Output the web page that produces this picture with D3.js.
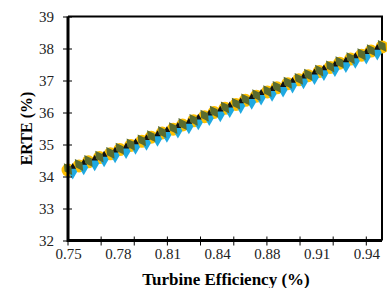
<!DOCTYPE html>
<html lang="en">
<head>
    <meta charset="UTF-8">
    <title>ERTE vs Turbine Efficiency</title>
    <script src="https://cdn.jsdelivr.net/npm/d3@7"></script>
    <style>
        body { margin: 0; background: #fff; }
        svg { display: block; }
    </style>
</head>
<body>
<script>
    'use strict';

    // turbine efficiency points
    var effX = [0.750, 0.757, 0.763, 0.770, 0.777, 0.783, 0.790, 0.797, 0.803, 0.810, 0.817,
        0.823, 0.830, 0.837, 0.843, 0.850, 0.857, 0.863, 0.870, 0.877, 0.883, 0.890,
        0.897, 0.903, 0.910, 0.917, 0.923, 0.930, 0.937, 0.943, 0.950];
    // shifted half a step (second group of markers)
    var effXb = [0.753, 0.760, 0.767, 0.773, 0.780, 0.787, 0.793, 0.800, 0.807, 0.813, 0.820,
        0.827, 0.833, 0.840, 0.847, 0.853, 0.860, 0.867, 0.873, 0.880, 0.887, 0.893,
        0.900, 0.907, 0.913, 0.920, 0.927, 0.933, 0.940, 0.947];

    // ERTE (%) series
    var erteYellow = [34.20, 34.33, 34.46, 34.59, 34.71, 34.84, 34.97, 35.10, 35.23, 35.36, 35.48,
        35.61, 35.74, 35.87, 36.00, 36.13, 36.25, 36.38, 36.51, 36.64, 36.77, 36.90,
        37.02, 37.15, 37.28, 37.41, 37.54, 37.67, 37.79, 37.92, 38.05];
    var erteOlive = [34.23, 34.36, 34.49, 34.62, 34.74, 34.87, 35.00, 35.13, 35.26, 35.39, 35.51,
        35.64, 35.77, 35.90, 36.03, 36.16, 36.28, 36.41, 36.54, 36.67, 36.80, 36.93,
        37.05, 37.18, 37.31, 37.44, 37.57, 37.70, 37.82, 37.95, 38.08];
    var erteBlue = [34.15, 34.28, 34.41, 34.53, 34.66, 34.79, 34.92, 35.05, 35.17, 35.30, 35.43,
        35.56, 35.69, 35.82, 35.94, 36.07, 36.20, 36.33, 36.46, 36.58, 36.71, 36.84,
        36.97, 37.10, 37.23, 37.35, 37.48, 37.61, 37.74, 37.87];
    var erteBlack = [34.30, 34.43, 34.56, 34.68, 34.81, 34.94, 35.07, 35.20, 35.32, 35.45, 35.58,
        35.71, 35.84, 35.97, 36.09, 36.22, 36.35, 36.48, 36.61, 36.73, 36.86, 36.99,
        37.12, 37.25, 37.38, 37.50, 37.63, 37.76, 37.89, 38.02];

    var yTicks = [32, 33, 34, 35, 36, 37, 38, 39];
    var xTickVals = [0.75, 0.7817, 0.8133, 0.845, 0.8767, 0.9083, 0.94];
    var xTickLabels = ['0.75', '0.78', '0.81', '0.84', '0.88', '0.91', '0.94'];
    var xMinorVals = [0.75, 0.7711, 0.7922, 0.8133, 0.8344, 0.8556, 0.8767, 0.8978, 0.9189, 0.94];

    var w = 387, h = 288;
    var padL = 68, padR = 382, padT = 16.5, padB = 240.5;
    var serif = '"Liberation Serif", "Times New Roman", serif';

    var svg = d3.select('body').append('svg')
        .attr('width', w)
        .attr('height', h);

    var x = d3.scaleLinear().domain([0.75, 0.95]).range([padL, padR]);
    var y = d3.scaleLinear().domain([32, 39]).range([padB, padT]);

    // frame (top / right)
    svg.append('path')
        .attr('d', 'M' + padL + ',' + padT + 'H' + padR + 'V' + padB)
        .attr('fill', 'none')
        .attr('stroke', '#000')
        .attr('stroke-width', 2);

    // series markers
    function pts(xs, ys) {
        return ys.map(function(v, i) { return [xs[i], v]; });
    }

    svg.append('g').selectAll('circle')
        .data(pts(effX, erteYellow))
        .enter().append('circle')
        .attr('cx', d => x(d[0]))
        .attr('cy', d => y(d[1]))
        .attr('r', 6.5)
        .attr('fill', '#ffc000');

    svg.append('g').selectAll('path')
        .data(pts(effXb, erteBlue))
        .enter().append('path')
        .attr('d', d3.symbol().type(d3.symbolDiamond).size(70))
        .attr('transform', d => 'translate(' + x(d[0]) + ',' + y(d[1]) + ')')
        .attr('fill', '#1fa9e1');

    svg.append('g').selectAll('path')
        .data(pts(effXb, erteBlack))
        .enter().append('path')
        .attr('d', d3.symbol().type(d3.symbolTriangle).size(20))
        .attr('transform', d => 'translate(' + x(d[0]) + ',' + y(d[1]) + ')')
        .attr('fill', '#111');

    svg.append('g').selectAll('path')
        .data(pts(effX, erteOlive))
        .enter().append('path')
        .attr('d', d3.symbol().type(d3.symbolDiamond).size(60))
        .attr('transform', d => 'translate(' + x(d[0]) + ',' + y(d[1]) + ') rotate(-35)')
        .attr('fill', '#5a6b2f');

    // axes
    var axisL = d3.axisLeft(y)
        .tickValues(yTicks)
        .tickFormat(d3.format('d'))
        .tickSize(0)
        .tickPadding(14);

    var gy = svg.append('g')
        .attr('transform', 'translate(' + padL + ',0)')
        .call(axisL);
    gy.select('.domain').remove();
    gy.selectAll('.tick').append('line')
        .attr('x1', -5).attr('x2', 4)
        .attr('stroke', '#000').attr('stroke-width', 1);

    var axisB = d3.axisBottom(x)
        .tickValues(xTickVals)
        .tickFormat((d, i) => xTickLabels[i])
        .tickSize(0)
        .tickPadding(8);

    var gx = svg.append('g')
        .attr('transform', 'translate(0,' + padB + ')')
        .call(axisB);
    gx.select('.domain').remove();

    svg.append('g').selectAll('line')
        .data(xMinorVals)
        .enter().append('line')
        .attr('x1', d => x(d)).attr('x2', d => x(d))
        .attr('y1', padB - 4).attr('y2', padB + 5)
        .attr('stroke', '#000').attr('stroke-width', 1);

    svg.selectAll('.tick text')
        .style('font-family', serif)
        .style('font-size', '15px')
        .attr('fill', '#222');

    // axis lines
    svg.append('path')
        .attr('d', 'M' + padL + ',' + padT + 'V' + padB + 'H' + padR)
        .attr('fill', 'none')
        .attr('stroke', '#000')
        .attr('stroke-width', 3);

    // titles
    svg.append('text')
        .attr('x', (padL + padR) / 2 + 1)
        .attr('y', 285)
        .attr('text-anchor', 'middle')
        .style('font-family', serif)
        .style('font-weight', 'bold')
        .style('font-size', '17px')
        .text('Turbine Efficiency (%)');

    svg.append('text')
        .attr('transform', 'translate(32,' + ((padT + padB) / 2) + ') rotate(-90)')
        .attr('text-anchor', 'middle')
        .style('font-family', serif)
        .style('font-weight', 'bold')
        .style('font-size', '16px')
        .text('ERTE (%)');
</script>
</body>
</html>
